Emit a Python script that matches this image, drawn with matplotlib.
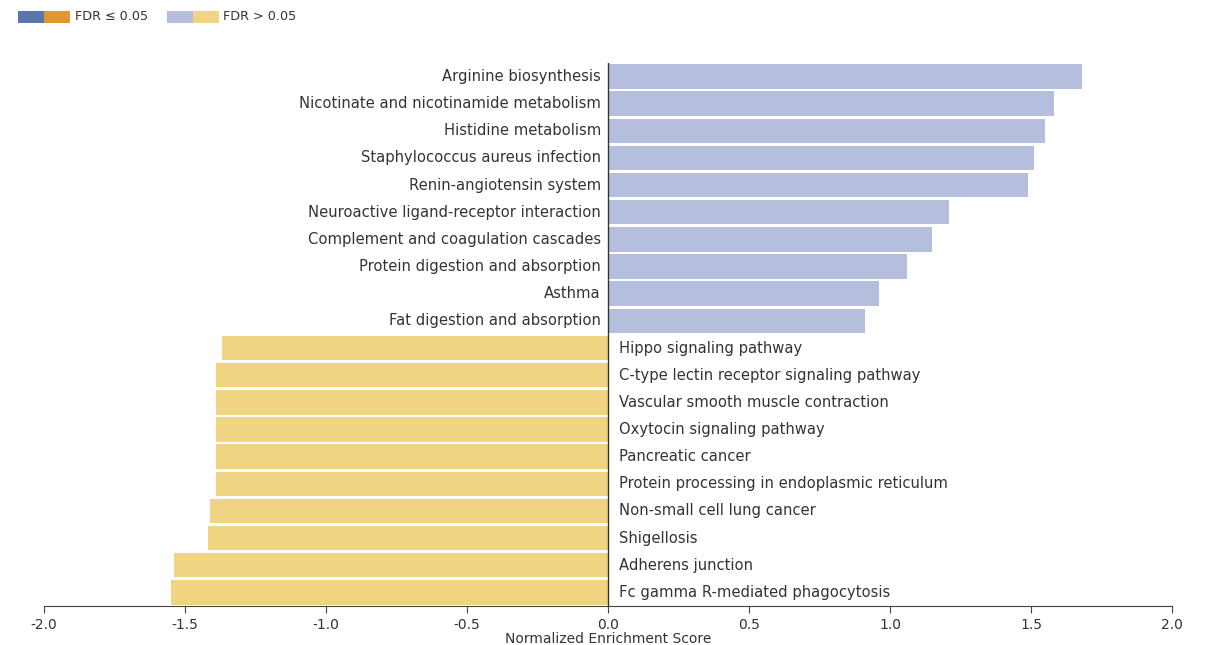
import matplotlib
matplotlib.use("Agg")
import matplotlib.pyplot as plt
from matplotlib.patches import Rectangle

# Enriched pathways (positive NES), top to bottom
up_pathways = [
    "Arginine biosynthesis",
    "Nicotinate and nicotinamide metabolism",
    "Histidine metabolism",
    "Staphylococcus aureus infection",
    "Renin-angiotensin system",
    "Neuroactive ligand-receptor interaction",
    "Complement and coagulation cascades",
    "Protein digestion and absorption",
    "Asthma",
    "Fat digestion and absorption",
]
up_nes = [1.68, 1.58, 1.55, 1.51, 1.49, 1.21, 1.15, 1.06, 0.96, 0.91]

# Depleted pathways (negative NES), top to bottom
down_pathways = [
    "Hippo signaling pathway",
    "C-type lectin receptor signaling pathway",
    "Vascular smooth muscle contraction",
    "Oxytocin signaling pathway",
    "Pancreatic cancer",
    "Protein processing in endoplasmic reticulum",
    "Non-small cell lung cancer",
    "Shigellosis",
    "Adherens junction",
    "Fc gamma R-mediated phagocytosis",
]
down_nes = [-1.37, -1.39, -1.39, -1.39, -1.39, -1.39, -1.41, -1.42, -1.54, -1.55]

x_ticks = [-2.0, -1.5, -1.0, -0.5, 0.0, 0.5, 1.0, 1.5, 2.0]

BLUE_SIG, ORANGE_SIG = "#5a76ae", "#e3962e"
BLUE_NS, YELLOW_NS = "#b5bedc", "#f0d481"
TEXT = "#333333"

fig = plt.figure(figsize=(12.09, 6.45), dpi=100)
ax = fig.add_axes([0.0364, 0.0605, 0.933, 0.842])

names = up_pathways + down_pathways
values = up_nes + down_nes
n = len(names)
ypos = [n - 1 - i for i in range(n)]
colors = [BLUE_NS if v > 0 else YELLOW_NS for v in values]

ax.barh(ypos, values, height=0.9, color=colors, edgecolor="none", zorder=2)

for y, name, v in zip(ypos, names, values):
    if v > 0:
        ax.text(-0.025, y, name, ha="right", va="center", fontsize=10.6, color=TEXT)
    else:
        ax.text(0.04, y, name, ha="left", va="center", fontsize=10.6, color=TEXT)

ax.axvline(0, color="#333333", lw=1.0, zorder=3)

ax.set_xlim(-2.0, 2.0)
ax.set_ylim(-0.5, n - 0.5)
ax.set_xticks(x_ticks)
ax.set_xticklabels([f"{t:.1f}" for t in x_ticks])
ax.tick_params(axis="x", colors="#444444", labelsize=10, length=5, pad=4, labelcolor=TEXT)
ax.set_yticks([])
for side in ("top", "right", "left"):
    ax.spines[side].set_visible(False)
ax.spines["bottom"].set_color("#444444")
ax.set_xlabel("Normalized Enrichment Score", fontsize=10, color=TEXT, labelpad=0)

# Legend drawn in figure coordinates
W, H = 1209.0, 645.0
def swatch(x0, color):
    fig.add_artist(Rectangle((x0 / W, 1 - 23 / H), 26 / W, 12 / H,
                             transform=fig.transFigure, color=color, lw=0))

swatch(18, BLUE_SIG)
swatch(44, ORANGE_SIG)
fig.text(75 / W, 1 - 17 / H, "FDR ≤ 0.05", fontsize=9.2, color=TEXT, va="center", ha="left")
swatch(167, BLUE_NS)
swatch(193, YELLOW_NS)
fig.text(223 / W, 1 - 17 / H, "FDR > 0.05", fontsize=9.2, color=TEXT, va="center", ha="left")

fig.savefig("out.png", dpi=100, facecolor="white")
